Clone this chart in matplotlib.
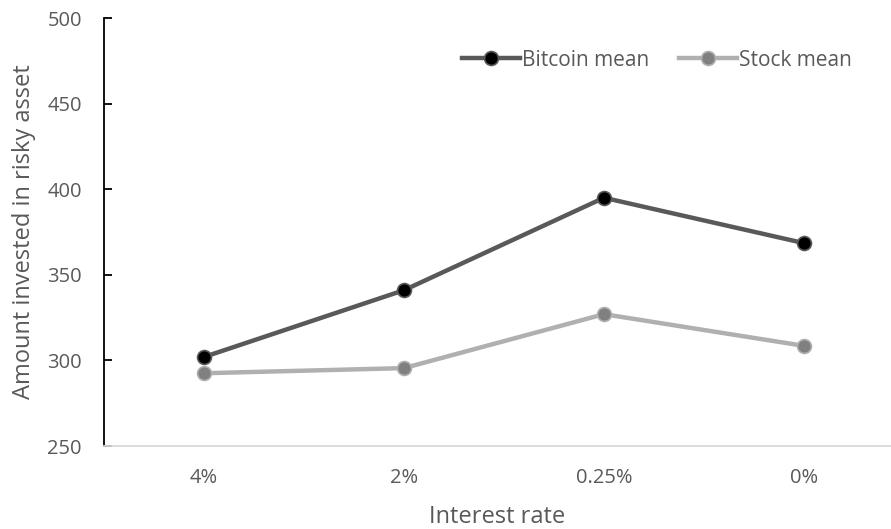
"""Bitcoin vs stock: amount invested in risky asset by interest rate."""

import matplotlib
matplotlib.use("Agg")
import matplotlib.pyplot as plt

# Data
rates = ["4%", "2%", "0.25%", "0%"]
bitcoin_mean = [302, 341, 395, 368.5]
stock_mean = [292.5, 295.5, 327, 308.5]

plt.rcParams["font.family"] = ["Open Sans", "DejaVu Sans"]
TEXT = "#595959"

fig = plt.figure(figsize=(8.91, 5.29), dpi=100)
ax = fig.add_axes([104 / 891, 1 - 446 / 529, 787 / 891, 428 / 529])

x = list(range(len(rates)))
ax.plot(x, bitcoin_mean, color="#595959", linewidth=3.2, marker="o",
        markersize=10, markerfacecolor="black", markeredgecolor="#595959",
        markeredgewidth=1.2, label="Bitcoin mean", zorder=3)
ax.plot(x, stock_mean, color="#b0b0b0", linewidth=3.2, marker="o",
        markersize=10, markerfacecolor="#808080", markeredgecolor="#b0b0b0",
        markeredgewidth=1.2, label="Stock mean", zorder=3)

ax.set_xlim(-0.5, 3.435)
ax.set_ylim(250, 500)
ax.set_yticks(range(250, 501, 50))
ax.set_xticks(x)
ax.set_xticklabels(rates)

for side in ["top", "right"]:
    ax.spines[side].set_visible(False)
ax.spines["left"].set_color("black")
ax.spines["left"].set_linewidth(1.3)
ax.spines["bottom"].set_color("#d9d9d9")
ax.spines["bottom"].set_linewidth(1.3)

ax.tick_params(axis="y", direction="in", length=6, width=1.3, color="black",
               pad=16, labelsize=14.5, labelcolor=TEXT)
ax.tick_params(axis="x", length=0, pad=16, labelsize=14.5, labelcolor=TEXT)

ax.set_xlabel("Interest rate", fontsize=17, color=TEXT, labelpad=12)
ax.set_ylabel("Amount invested in risky asset", fontsize=17, color=TEXT,
              labelpad=8)

# legend sits top right, ending near x=850 px
ax.legend(loc="center right", bbox_to_anchor=(748 / 787, 1 - 42 / 428), ncol=2,
          frameon=False, fontsize=15, labelcolor=TEXT, handlelength=2.8,
          handletextpad=0.1, columnspacing=1.4, borderpad=0, borderaxespad=0)

fig.savefig("out.png", dpi=100)
